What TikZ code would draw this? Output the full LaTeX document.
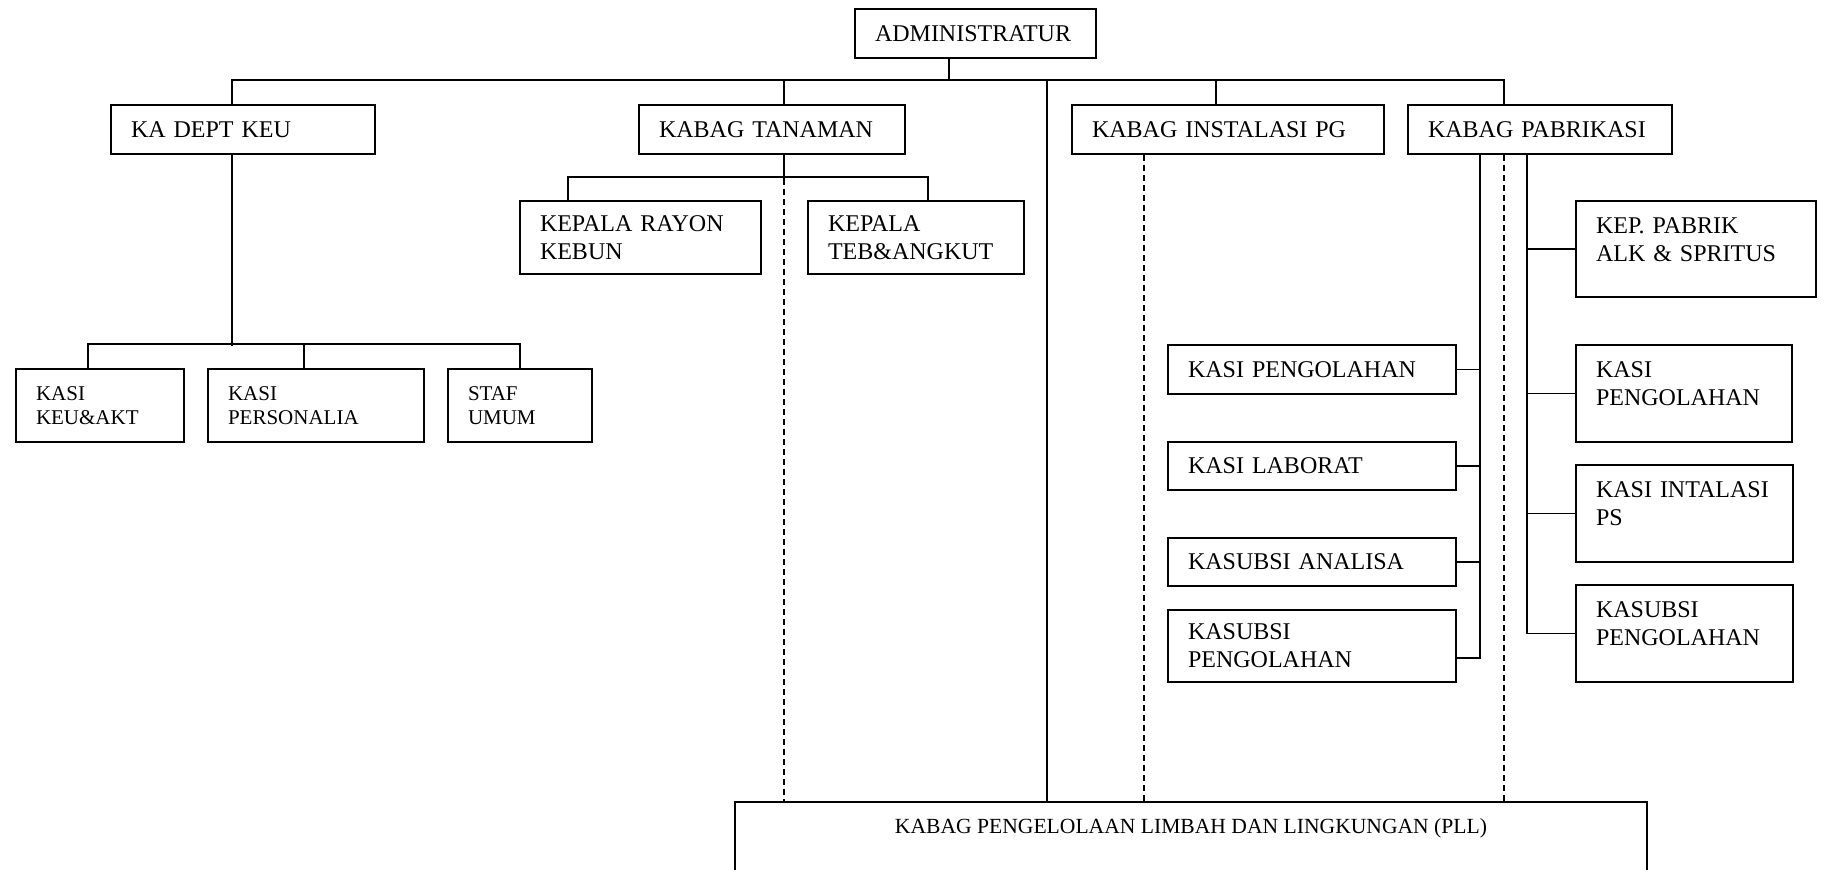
\documentclass[tikz,border=0pt]{standalone}
\usepackage{fontspec}
\setmainfont{Liberation Serif}
\usepackage{tikz}
\tikzstyle{box}=[draw,line width=1bp,anchor=north west,inner xsep=10bp,inner ysep=0bp,align=left,font=\fontsize{12bp}{14bp}\selectfont]
\tikzstyle{smallbox}=[box,font=\fontsize{10.5bp}{12bp}\selectfont]
\tikzstyle{link}=[line width=0.8bp]
\tikzstyle{dashlink}=[line width=0.8bp,dash pattern=on 3bp off 2bp]

\begin{document}
\begin{tikzpicture}[line join=miter]
	\useasboundingbox (0bp,0bp) rectangle (918bp,435bp);
	%%
	\node (admin) at (427bp,431bp) [box,minimum height=24.5bp,text width=100.5bp] {ADMINISTRATUR};
	  \node (keu) at (55bp,383bp) [box,minimum height=24.5bp,text width=112bp] {KA DEPT KEU};
	  \node (tanaman) at (319bp,383bp) [box,minimum height=24.5bp,text width=113bp] {KABAG TANAMAN};
	  \node (instalasi) at (535.5bp,383bp) [box,minimum height=24.5bp,text width=136bp] {KABAG INSTALASI PG};
	  \node (pabrikasi) at (703.5bp,383bp) [box,minimum height=24.5bp,text width=112bp] {KABAG PABRIKASI};
	  \node (rayon) at (259.5bp,335bp) [box,minimum height=36.5bp,text width=100.5bp] {KEPALA RAYON\\KEBUN};
	  \node (teb) at (403.5bp,335bp) [box,minimum height=36.5bp,text width=88bp] {KEPALA\\TEB\&ANGKUT};
	  \node (keuakt) at (7.5bp,251bp) [smallbox,minimum height=36.5bp,text width=64bp] {KASI\\KEU\&AKT};
	  \node (personalia) at (103.5bp,251bp) [smallbox,minimum height=36.5bp,text width=88bp] {KASI\\PERSONALIA};
	  \node (umum) at (223.5bp,251bp) [smallbox,minimum height=36.5bp,text width=52bp] {STAF\\UMUM};
	  \node (pengolahanL) at (583.5bp,263bp) [box,minimum height=24.5bp,text width=124bp] {KASI PENGOLAHAN};
	  \node (laborat) at (583.5bp,214.5bp) [box,minimum height=24bp,text width=124bp] {KASI LABORAT};
	  \node (analisa) at (583.5bp,166.5bp) [box,minimum height=24bp,text width=124bp] {KASUBSI ANALISA};
	  \node (kasubsiL) at (583.5bp,130.5bp) [box,minimum height=36bp,text width=124bp] {KASUBSI\\PENGOLAHAN};
	  \node (alk) at (787.5bp,335bp) [box,minimum height=48bp,text width=100bp] {KEP. PABRIK\\ALK \& SPRITUS\\[-4.5bp]\mbox{}};
	  \node (pengolahanR) at (787.5bp,263bp) [box,minimum height=48.5bp,text width=88bp] {KASI\\PENGOLAHAN\\[-4.5bp]\mbox{}};
	  \node (intalasi) at (787.5bp,203bp) [box,minimum height=48.5bp,text width=88.5bp] {KASI INTALASI\\PS\\[-4.5bp]\mbox{}};
	  \node (kasubsiR) at (787.5bp,143bp) [box,minimum height=48.5bp,text width=88.5bp] {KASUBSI\\PENGOLAHAN\\[-4.5bp]\mbox{}};
	  \node (pll) at (595.5bp,34.5bp) [draw,line width=1bp,anchor=north,minimum width=456bp,inner ysep=8.5bp,text depth=40bp,font=\fontsize{10.8bp}{12bp}\selectfont] {KABAG PENGELOLAAN LIMBAH DAN LINGKUNGAN (PLL)};
	  \coordinate (bus) at (474.5bp,395bp);
	  \coordinate (pllline) at (523.5bp,395bp);
	  % top level
	  \draw [link] (admin.south -| bus) -- (bus);
	  \draw [link] ([xshift=-5.5bp]keu.north) -- ++(0,12bp) -| ([xshift=-18bp]pabrikasi.north);
	  \draw [link] ([xshift=6bp]tanaman.north) -- ++(0,12bp);
	  \draw [link] ([xshift=-6bp]instalasi.north) -- ++(0,12bp);
	  \draw [link] (pllline) -- (pllline |- pll.north);
	  % keuangan
	  \draw [link] ([xshift=-5.5bp]keu.south) -- ++(0,-95.5bp);
	  \draw [link] ([xshift=-6bp]keuakt.north) -- ++(0,12bp) -| (umum.north);
	  \draw [link] ([xshift=-6bp]personalia.north) -- ++(0,12bp);
	  % tanaman
	  \draw [link] ([xshift=6bp]tanaman.south) -- ++(0,-12bp) coordinate (tsub);
	  \draw [link] ([xshift=-36.25bp]rayon.north) -- ++(0,11.5bp) -| ([xshift=6bp]teb.north);
	  \draw [dashlink] (tsub) -- (tsub |- pll.north);
	  % instalasi
	  \draw [dashlink] ([xshift=-42bp]instalasi.south) coordinate (isub) -- (isub |- pll.north);
	  % pabrikasi
	  \draw [link] ([xshift=-30bp]pabrikasi.south) |- ([yshift=-6bp]kasubsiL.east);
	  \draw [link] (pengolahanL.east) -- ++(12bp,0);
	  \draw [link] (laborat.east) -- ++(12bp,0);
	  \draw [link] (analisa.east) -- ++(12bp,0);
	  \draw [dashlink] ([xshift=-18bp]pabrikasi.south) coordinate (psub) -- (psub |- pll.north);
	  \draw [link] ([xshift=-6.5bp]pabrikasi.south) |- (kasubsiR.west);
	  \draw [link] (alk.west) -- ++(-24.5bp,0);
	  \draw [link] (pengolahanR.west) -- ++(-24.5bp,0);
	  \draw [link] (intalasi.west) -- ++(-24.5bp,0);
	%
\end{tikzpicture}
\end{document}
